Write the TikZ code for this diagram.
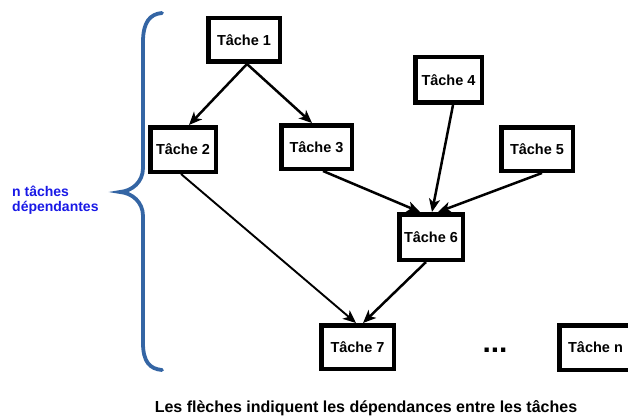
\documentclass[tikz,border=0pt]{standalone}
\usepackage{fontspec}
\setmainfont{Liberation Sans}
\usetikzlibrary{arrows.meta}
\definecolor{bracecol}{RGB}{52,101,164}
\definecolor{labelblue}{RGB}{25,25,230}
\tikzset{
  taskbox/.style={draw=black, fill=white, line width=4.5pt, inner sep=0pt,
    font=\fontsize{14.5}{17}\selectfont\bfseries, text=black},
  dep/.style={line width=2.5pt, draw=black,
    -{Stealth[length=13pt,width=11pt,inset=3.5pt]}},
  thindep/.style={dep, line width=1.9pt}
}
\begin{document}
\begin{tikzpicture}[x=1pt,y=-1pt]
\useasboundingbox (0,0) rectangle (628,417);
\clip (0,0) rectangle (628,417);
% brace
\draw[bracecol, line width=3.8pt, line cap=round]
  (162,13) .. controls (150,14) and (143,22) .. (143,42) -- (143,168)
  .. controls (143,182) and (132,191) .. (120,192)
  .. controls (132,193) and (143,202) .. (143,216) -- (143,343)
  .. controls (143,362) and (150,369) .. (162,370);
\node[anchor=west, inner sep=0pt, align=left, text=labelblue,
  font=\fontsize{14}{14.5}\selectfont\bfseries] (lbl) at (12,200) {n tâches\\dépendantes};
% boxes
\node[taskbox, minimum width=71.5pt, minimum height=43.5pt] (t1) at (244,40) {Tâche 1};
\node[taskbox, minimum width=65.5pt, minimum height=44.5pt] (t2) at (183,149.5) {Tâche 2};
\node[taskbox, minimum width=70.5pt, minimum height=43.5pt] (t3) at (316.5,147) {Tâche 3};
\node[taskbox, minimum width=66.5pt, minimum height=45.5pt] (t4) at (448.5,80) {Tâche 4};
\node[taskbox, minimum width=71.5pt, minimum height=43.5pt] (t5) at (537,149) {Tâche 5};
\node[taskbox, minimum width=63.5pt, minimum height=45.5pt] (t6) at (431,237) {Tâche 6};
\node[taskbox, minimum width=72.5pt, minimum height=43.5pt] (t7) at (357.5,347) {Tâche 7};
\node[taskbox, minimum width=72.5pt, minimum height=44.5pt] (tn) at (595.5,347.5) {Tâche n};
\node[inner sep=0pt, font=\fontsize{30}{30}\selectfont\bfseries] (dots) at (495,350) {...};
% dependencies
\draw[dep] ([xshift=3pt]t1.south) -- ([xshift=6pt]t2.north);
\draw[dep] ([xshift=3pt]t1.south) -- ([xshift=-4.5pt]t3.north);
\draw[thindep] ([xshift=-2pt]t2.south) -- ([xshift=-1.5pt]t7.north);
\draw[dep] ([xshift=6.5pt]t3.south) -- ([xshift=-11pt]t6.north);
\draw[dep] ([xshift=4.5pt]t4.south) -- ([xshift=1pt]t6.north);
\draw[dep] ([xshift=5pt]t5.south) -- ([xshift=7pt]t6.north);
\draw[dep] ([xshift=-5pt]t6.south) -- ([xshift=5.5pt]t7.north);
% caption
\node[anchor=base, inner sep=0pt, font=\fontsize{16}{18}\selectfont\bfseries] (cap) at (366,412)
  {Les flèches indiquent les dépendances entre les tâches};
\end{tikzpicture}
\end{document}
